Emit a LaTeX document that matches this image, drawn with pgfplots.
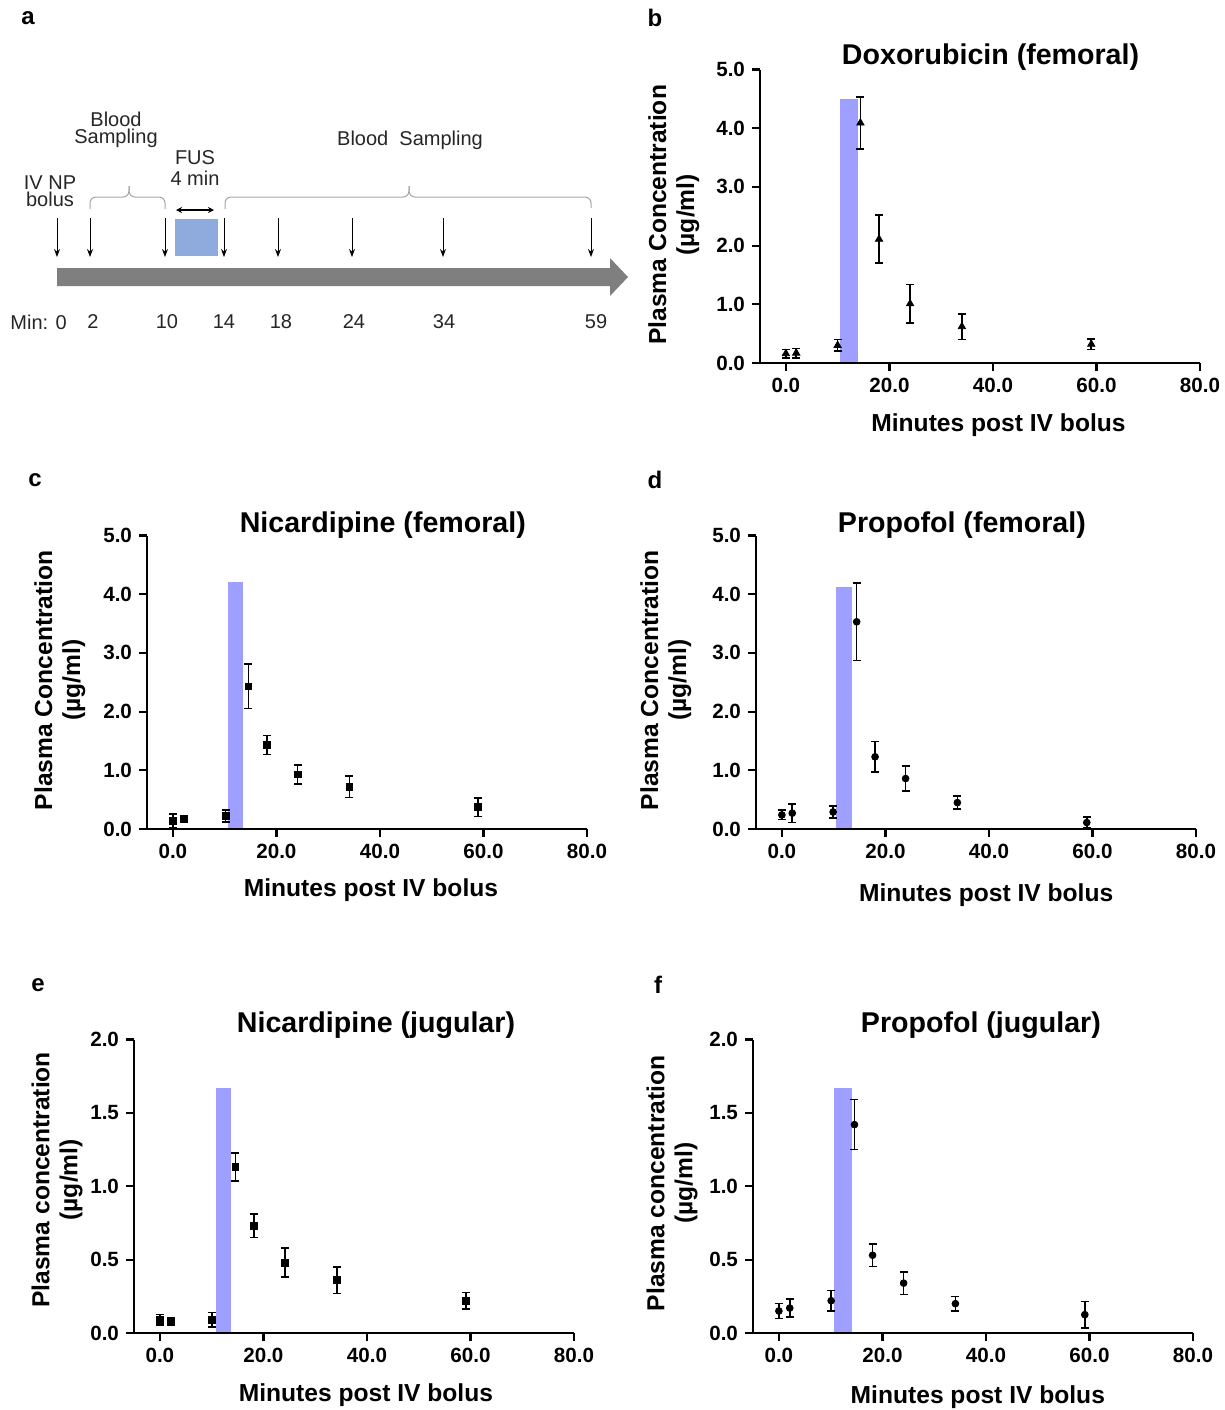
\documentclass[border=0pt]{standalone}
\usepackage{fontspec}
\setmainfont{Liberation Sans}
\usepackage{pgfplots}
\pgfplotsset{compat=1.18}
\usetikzlibrary{arrows.meta}
\definecolor{fus}{HTML}{9F9FFF}
\definecolor{fusbox}{HTML}{8FAADC}
\definecolor{timeline}{HTML}{7F7F7F}
\definecolor{txt}{HTML}{262626}

\pgfplotsset{
  pk/.style={
    scale only axis, width=220pt, height=146.75pt,
    xmin=-5, xmax=80, ymin=0,
    axis x line*=bottom, axis y line*=left,
    axis line style={line width=1.1pt, -},
    xtick={0,20,40,60,80},
    tick align=outside, major tick length=4pt,
    tick style={line width=1.1pt, black},
    minor tick num=0,
    scaled ticks=false,
    /pgf/number format/assume math mode=true,
    tick label style={font=\fontsize{10.3}{12}\selectfont\bfseries},
    xticklabel style={/pgf/number format/fixed, /pgf/number format/fixed zerofill, /pgf/number format/precision=1},
    yticklabel style={/pgf/number format/fixed, /pgf/number format/fixed zerofill, /pgf/number format/precision=1},
    clip=false, axis on top,
  },
  fus bar/.style={fill=fus, draw=none, mark=none, forget plot},
  pts/.style={only marks, black, mark size=1.7pt,
    error bars/y dir=both, error bars/y explicit,
    error bars/error bar style={line width=0.8pt, black},
    error bars/error mark options={rotate=90, mark size=2pt, line width=0.8pt, black}},
}
\tikzset{
  pktitle/.style={font=\fontsize{14.3}{16}\selectfont\bfseries, inner sep=0},
  pklabel/.style={font=\fontsize{12.3}{14}\selectfont\bfseries, inner sep=0},
  pkylabel/.style={font=\fontsize{12.3}{14}\selectfont\bfseries, inner sep=0, rotate=90, align=center},
  letter/.style={font=\fontsize{12}{14}\selectfont\bfseries, inner sep=0},
  atxt/.style={font=\fontsize{10}{8.5}\selectfont, text=txt, inner sep=0, align=center},
}

\begin{document}
\begin{tikzpicture}
\path[use as bounding box] (0,0) rectangle (612.5pt,-705pt);

% panel a: protocol timeline
\begin{scope}[x=0.5pt, y=-0.5pt]
\node[letter] at (28,18) {a};
\fill[timeline] (57,268) -- (610,268) -- (610,258) -- (628,277) -- (610,296) -- (610,286) -- (57,286) -- cycle;
\foreach \x in {57,90,165,224,278,352,443,591}
  \draw[-{Stealth[length=4pt,width=3pt]}, line width=0.5pt] (\x,218) -- (\x,257);
\fill[fusbox] (175,219) rectangle (218,256);
\draw[{Stealth[length=3pt,width=3pt]}-{Stealth[length=3pt,width=3pt]}, line width=0.6pt] (176,210) -- (214,210);
\draw[gray!70, line width=0.5pt, rounded corners=3pt] (90,209) -- (90,197) -- (129,197) -- (129,186);
\draw[gray!70, line width=0.5pt, rounded corners=3pt] (129,186) -- (129,197) -- (165,197) -- (165,209);
\draw[gray!70, line width=0.5pt, rounded corners=3pt] (225,209) -- (225,197) -- (409,197) -- (409,186);
\draw[gray!70, line width=0.5pt, rounded corners=3pt] (409,186) -- (409,197) -- (591,197) -- (591,208);
\node[atxt] at (50,191) {IV NP\\bolus};
\node[atxt] at (116,130) {Blood\\Sampling};
\node[atxt, font=\fontsize{10}{10.5}\selectfont] at (195,168) {FUS\\4 min};
\node[atxt] at (410,140) {Blood~~Sampling};
\node[atxt, anchor=west] at (10,322) {Min: 0};
\foreach \x/\t in {93/2,167/10,224/14,281/18,354/24,444/34,596/59}
  \node[atxt] at (\x,322) {\t};
\node[letter] at (655,18) {b};
\node[letter] at (35,480) {c};
\node[letter] at (655,480) {d};
\node[letter] at (38,985) {e};
\node[letter] at (658,985) {f};
\end{scope}

% panel b
\begin{axis}[pk, at={(380pt,-181.5pt)}, anchor=south west, ymax=5, ytick={0,1,2,3,4,5}]
\addplot[fus bar] coordinates {(10.5,0) (10.5,4.5) (14,4.5) (14,0)} -- cycle;
\addplot[pts, mark=triangle*, mark size=2.1pt] coordinates {
  (0,0.16) +- (0,0.07)
  (2,0.17) +- (0,0.08)
  (10,0.30) +- (0,0.10)
  (14.4,4.09) +- (0,0.44)
  (18,2.11) +- (0,0.41)
  (24,1.01) +- (0,0.33)
  (34,0.62) +- (0,0.22)
  (59,0.32) +- (0,0.09)
};
\node[pktitle] at (rel axis cs:0.524,1.044) {Doxorubicin (femoral)};
\node[pklabel] at (rel axis cs:0.542,-0.212) {Minutes post IV bolus};
\node[pkylabel] at (rel axis cs:-0.196,0.505) {Plasma Concentration\\(µg/ml)};
\end{axis}

% panel c
\begin{axis}[pk, at={(73.5pt,-414.5pt)}, anchor=south west, ymax=5, ytick={0,1,2,3,4,5}]
\addplot[fus bar] coordinates {(10.7,0) (10.7,4.2) (13.5,4.2) (13.5,0)} -- cycle;
\addplot[pts, mark=square*] coordinates {
  (0,0.14) +- (0,0.12)
  (2.1,0.17) +- (0,0.06)
  (10.2,0.22) +- (0,0.10)
  (14.6,2.43) +- (0,0.38)
  (18.2,1.43) +- (0,0.16)
  (24.1,0.93) +- (0,0.16)
  (34.1,0.72) +- (0,0.18)
  (59,0.37) +- (0,0.16)
};
\node[pktitle] at (rel axis cs:0.536,1.037) {Nicardipine (femoral)};
\node[pklabel] at (rel axis cs:0.509,-0.207) {Minutes post IV bolus};
\node[pkylabel] at (rel axis cs:-0.198,0.507) {Plasma Concentration\\(µg/ml)};
\end{axis}

% panel d
\begin{axis}[pk, at={(378pt,-414.5pt)}, anchor=south west, ymax=5, ytick={0,1,2,3,4,5}]
\addplot[fus bar] coordinates {(10.5,0) (10.5,4.13) (13.6,4.13) (13.6,0)} -- cycle;
\addplot[pts, mark=*] coordinates {
  (0,0.24) +- (0,0.08)
  (2,0.27) +- (0,0.16)
  (9.9,0.29) +- (0,0.10)
  (14.45,3.53) +- (0,0.66)
  (18,1.23) +- (0,0.26)
  (23.9,0.86) +- (0,0.21)
  (33.9,0.45) +- (0,0.11)
  (58.9,0.11) +- (0,0.09)
};
\node[pktitle] at (rel axis cs:0.468,1.037) {Propofol (femoral)};
\node[pklabel] at (rel axis cs:0.523,-0.224) {Minutes post IV bolus};
\node[pkylabel] at (rel axis cs:-0.205,0.507) {Plasma Concentration\\(µg/ml)};
\end{axis}

% panel e
\begin{axis}[pk, at={(67pt,-666.5pt)}, anchor=south west, ymax=2, ytick={0,0.5,1,1.5,2}]
\addplot[fus bar] coordinates {(10.8,0) (10.8,1.67) (13.8,1.67) (13.8,0)} -- cycle;
\addplot[pts, mark=square*] coordinates {
  (0,0.09) +- (0,0.035)
  (2.1,0.08) +- (0,0.027)
  (10.1,0.09) +- (0,0.05)
  (14.6,1.13) +- (0,0.095)
  (18.2,0.73) +- (0,0.08)
  (24.2,0.48) +- (0,0.10)
  (34.2,0.36) +- (0,0.09)
  (59.1,0.22) +- (0,0.055)
};
\node[pktitle] at (rel axis cs:0.55,1.048) {Nicardipine (jugular)};
\node[pklabel] at (rel axis cs:0.527,-0.212) {Minutes post IV bolus};
\node[pkylabel] at (rel axis cs:-0.175,0.522) {Plasma concentration\\(µg/ml)};
\end{axis}

% panel f
\begin{axis}[pk, at={(376.5pt,-666.5pt)}, anchor=south west, ymax=2, ytick={0,0.5,1,1.5,2}]
\addplot[fus bar] coordinates {(10.6,0) (10.6,1.67) (14.2,1.67) (14.2,0)} -- cycle;
\addplot[pts, mark=*] coordinates {
  (0,0.15) +- (0,0.05)
  (2.1,0.17) +- (0,0.06)
  (10.1,0.22) +- (0,0.07)
  (14.6,1.42) +- (0,0.17)
  (18.1,0.53) +- (0,0.077)
  (24.1,0.34) +- (0,0.077)
  (34.1,0.20) +- (0,0.05)
  (59.1,0.125) +- (0,0.09)
};
\node[pktitle] at (rel axis cs:0.518,1.048) {Propofol (jugular)};
\node[pklabel] at (rel axis cs:0.511,-0.218) {Minutes post IV bolus};
\node[pkylabel] at (rel axis cs:-0.184,0.51) {Plasma concentration\\(µg/ml)};
\end{axis}
\end{tikzpicture}
\end{document}
